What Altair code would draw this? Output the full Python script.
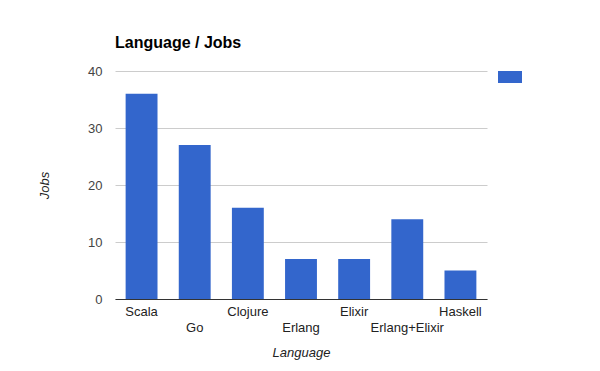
import altair as alt
import pandas as pd

languages = ["Scala", "Go", "Clojure", "Erlang", "Elixir", "Erlang+Elixir", "Haskell"]
jobs = [36, 27, 16, 7, 7, 14, 5]
series_name = [""] * len(languages)
lower_row = ["Go", "Erlang", "Erlang+Elixir"]
y_ticks = [0, 10, 20, 30, 40]

df = pd.DataFrame({"Language": languages, "Jobs": jobs, "series": series_name})

FONT = "Liberation Sans, Arial"

lower_list = "[" + ",".join("'" + s + "'" for s in lower_row) + "]"

chart = alt.Chart(df).mark_bar().encode(
    x=alt.X(
        "Language:N",
        sort=languages,
        scale=alt.Scale(paddingInner=0.4, paddingOuter=0.2),
        axis=alt.Axis(
            title="Language",
            titleFont=FONT,
            titleFontStyle="italic",
            titleFontWeight="normal",
            titleFontSize=13,
            titleColor="#222222",
            titlePadding=12,
            labelAngle=0,
            labelFont=FONT,
            labelFontSize=13,
            labelColor="#222222",
            labelPadding=6,
            labelLineHeight=16,
            labelExpr="indexof(" + lower_list + ", datum.value) >= 0 ? ['', datum.label] : datum.label",
            ticks=False,
            domainColor="#333333",
            domainWidth=1,
            zindex=1,
        ),
    ),
    y=alt.Y(
        "Jobs:Q",
        scale=alt.Scale(domain=[0, 40], nice=False),
        axis=alt.Axis(
            title="Jobs",
            titleFont=FONT,
            titleFontStyle="italic",
            titleFontWeight="normal",
            titleFontSize=13,
            titleColor="#222222",
            titlePadding=36,
            values=y_ticks,
            labelFont=FONT,
            labelFontSize=13,
            labelColor="#444444",
            labelPadding=13,
            ticks=False,
            domain=False,
            gridColor="#cccccc",
            gridWidth=1,
        ),
    ),
    color=alt.Color(
        "series:N",
        scale=alt.Scale(range=["#3366cc"]),
        legend=alt.Legend(
            orient="none",
            legendX=383,
            legendY=-6,
            title=None,
            labelExpr="''",
            symbolType="M-1,-0.5H1V0.5H-1Z",
            symbolSize=576,
            symbolStrokeWidth=0,
            symbolOpacity=1,
            padding=0,
            symbolOffset=0,
        ),
    ),
).properties(
    width=372,
    height=228,
    title=alt.Title(
        "Language / Jobs",
        anchor="start",
        frame="group",
        font=FONT,
        fontSize=16,
        fontWeight="bold",
        color="#000000",
        baseline="alphabetic",
        offset=1,
    ),
    padding={"left": 107, "top": 63, "right": 90, "bottom": 66},
    autosize=alt.AutoSizeParams(type="none"),
).configure_view(stroke=None)

chart.save("out.html", embed_options={"renderer": "svg", "actions": False})
